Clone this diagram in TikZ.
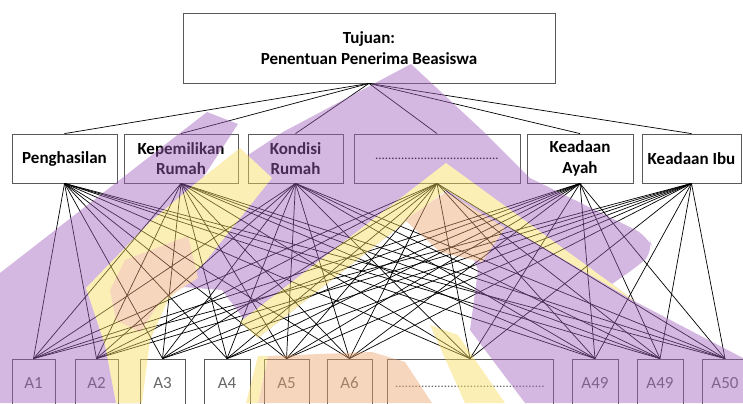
\documentclass[tikz,border=0pt]{standalone}
\usepackage{fontspec}
\setmainfont{Carlito}
\definecolor{ungu}{RGB}{160,97,188}
\definecolor{kuning}{RGB}{246,220,91}
\definecolor{jingga}{RGB}{237,164,110}
\begin{document}
\begin{tikzpicture}[x=0.3mm,y=-0.3mm,
  kotak/.style={draw=black!65,line width=0.7pt,rectangle,inner sep=0pt,align=center,font=\fontsize{14.5}{17.5}\selectfont\bfseries},
  krit/.style={kotak,minimum height=14.7mm},
  alt/.style={kotak,font=\fontsize{14.5}{17.5}\selectfont,text=black!60,minimum height=14.4mm,minimum width=13.5mm},
  every edge/.style={draw=black,line width=0.6pt}]
\useasboundingbox (0,0) rectangle (743,403);
\clip (0,0) rectangle (743,403);
\node [kotak,minimum width=111.6mm,minimum height=21mm] (tujuan) at (369,48) {Tujuan:\\Penentuan Penerima Beasiswa};
\node [krit,minimum width=31.5mm] (k1) at (64.5,158.5) {Penghasilan};
\node [krit,minimum width=34.2mm] (k2) at (181,158.5) {Kepemilikan\\Rumah};
\node [krit,minimum width=28.5mm] (k3) at (295.5,158.5) {Kondisi\\Rumah};
\node [krit,minimum width=49.8mm] (k4) at (437,158.5) {\fontsize{11}{11}\selectfont\mdseries ......................................};
\node [krit,minimum width=31.8mm] (k5) at (580,158.5) {Keadaan\\Ayah};
\node [krit,minimum width=29.7mm] (k6) at (691.5,158.5) {Keadaan Ibu};
\node [alt,minimum width=12.9mm] (a1) at (33.5,383) {A1};
\node [alt,minimum width=12.9mm] (a2) at (96.5,383) {A2};
\node [alt] (a3) at (162.5,383) {A3};
\node [alt,minimum width=13.8mm] (a4) at (227,383) {A4};
\node [alt] (a5) at (286.5,383) {A5};
\node [alt] (a6) at (349.5,383) {A6};
\node [alt,minimum width=49.8mm] (a7) at (470,383) {\raisebox{-3mm}{\fontsize{11}{11}\selectfont ..............................................}};
\node [alt,minimum width=13.8mm] (a8) at (595,383) {A49};
\node [alt,minimum width=13.8mm] (a9) at (660,383) {A49};
\node [alt,minimum width=13.8mm] (a10) at (725,383) {A50};
\path
(tujuan.south) edge (k1.north)
(tujuan.south) edge (k2.north)
(tujuan.south) edge (k3.north)
(tujuan.south) edge (k4.north)
(tujuan.south) edge (k5.north)
(tujuan.south) edge (k6.north)
;
\foreach \k in {1,...,6}
  \foreach \a in {1,...,10}
    \path (k\k.south) edge (a\a.north);
\begin{scope}[transparency group,opacity=0.45]
\fill [ungu] (0,273) -- (207,112) -- (238,124) -- (195,190) -- (283,132) -- (411,64) -- (485,133) -- (530,178)
  [rounded corners=12] -- (648,236) -- (654,252) -- (638,266) [sharp corners] -- (612,284) -- (636,302)
  -- (743,358) -- (743,403) -- (525,403) -- (470,330) -- (478,270) -- (446,190) -- (258,338)
  -- (222,290) -- (170,286) -- (142,330) -- (140,403) -- (0,403) -- cycle;
\fill [kuning] (240,322) -- (446,163) -- (612,284) -- (636,302) -- (446,190) -- (258,338) -- cycle;
\fill [jingga] (446,192) -- (505,228) -- (482,262) -- (440,252) -- (405,220) -- cycle;
\fill [kuning] (196,183) -- (240,148) -- (272,178) -- (205,262) -- (168,300) -- (150,340) -- (142,403)
  -- (116,403) -- (105,345) -- (86,288) -- (150,222) -- cycle;
\fill [jingga] (125,260) -- (188,236) -- (198,278) -- (160,302) -- (140,332) -- (116,320) -- (110,290) -- cycle;
\fill [kuning] (465,403) -- (505,403) -- (458,335) -- (430,325) -- cycle;
\fill [jingga] (258,403) -- (268,356) -- (372,352) -- (405,362) -- (432,403) -- cycle;
\fill [kuning] (246,403) -- (258,356) -- (268,356) -- (258,403) -- cycle;
\end{scope}
\end{tikzpicture}
\end{document}
